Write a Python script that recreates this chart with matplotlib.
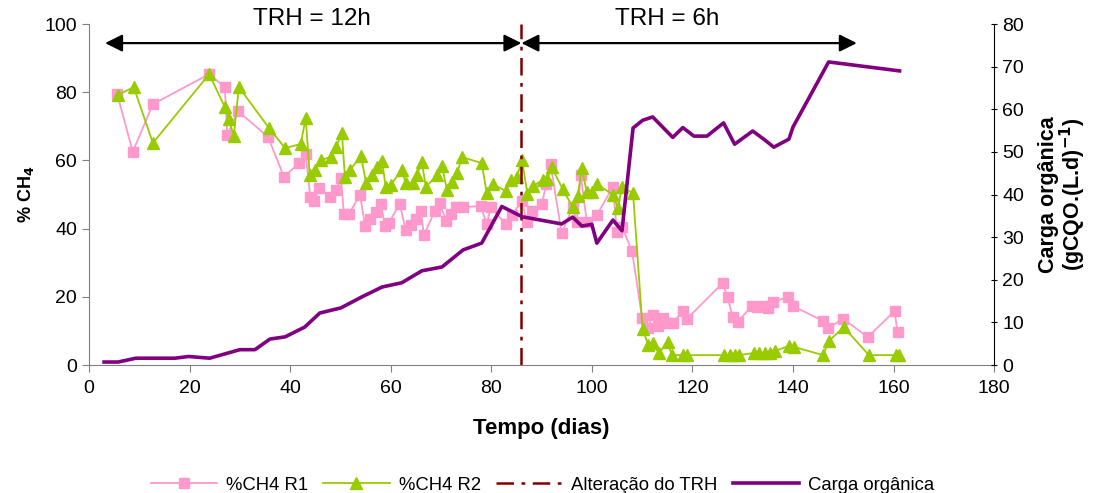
import numpy as np
import matplotlib
matplotlib.use('Agg')
from matplotlib import pyplot as plt
from matplotlib.lines import Line2D

plt.rcParams['font.family'] = ['Liberation Sans', 'DejaVu Sans']

# %CH4 no reator R1 (dias, %)
r1_dias = [5.6, 8.7, 12.7, 23.9, 27.0, 27.5, 29.6, 35.6, 38.8, 41.7, 43.1, 44.0, 44.7,
           45.7, 47.9, 49.1, 50.1, 50.7, 51.7, 53.9, 54.9, 55.9, 57.1, 58.1, 58.8, 59.6,
           61.8, 63.0, 64.0, 65.0, 66.0, 66.6, 68.8, 69.8, 71.0, 72.0, 73.0, 74.4, 77.9,
           79.1, 79.9, 82.9, 84.1, 86.1, 87.1, 88.1, 90.1, 90.9, 91.8, 94.0, 96.2, 97.0,
           97.8, 99.0, 101.0, 104.2, 105.0, 106.0, 108.0, 110.0, 111.2, 112.1, 113.1,
           114.1, 115.1, 116.1, 118.1, 118.9, 126.0, 127.0, 128.0, 129.0, 131.8, 132.8,
           134.0, 135.0, 136.0, 139.0, 140.0, 146.0, 147.0, 150.0, 154.9, 160.2, 160.8]
r1_ch4 = [79.5, 62.5, 76.5, 85.3, 81.5, 67.4, 74.5, 66.9, 55.1, 59.2, 61.9, 49.3, 48.0,
          51.9, 49.3, 51.3, 54.8, 44.3, 44.3, 49.9, 40.8, 42.8, 44.9, 47.2, 40.8, 41.6,
          47.2, 39.6, 41.0, 42.8, 45.2, 38.1, 45.2, 47.5, 42.2, 44.3, 46.3, 46.3, 46.6,
          41.3, 46.3, 41.3, 44.0, 48.1, 41.9, 45.2, 47.2, 53.1, 58.9, 38.7, 46.3, 41.9,
          55.7, 41.9, 44.0, 52.2, 39.0, 40.5, 33.4, 13.8, 10.9, 14.7, 11.4,
          13.8, 12.3, 12.3, 15.8, 13.5, 24.0, 19.9, 14.1, 12.6, 17.3, 17.0,
          17.3, 16.7, 18.5, 19.9, 17.3, 12.9, 10.9, 13.5, 8.2, 15.8, 9.7]

# %CH4 no reator R2 (dias, %)
r2_dias = [5.8, 8.9, 12.7, 23.9, 27.0, 27.8, 28.8, 29.8, 35.8, 39.0, 42.1, 43.1, 43.9,
           44.9, 46.1, 48.1, 49.1, 50.3, 50.9, 51.9, 54.1, 55.1, 56.3, 57.3, 58.3, 59.0,
           60.0, 62.2, 63.0, 64.4, 65.2, 66.2, 67.0, 69.2, 70.2, 71.2, 72.2, 73.2, 74.2,
           78.1, 79.1, 80.3, 82.9, 84.0, 85.1, 86.1, 87.2, 88.3, 90.3, 91.1, 92.0, 94.2,
           96.2, 97.2, 98.0, 99.0, 100.0, 101.0, 104.2, 105.2, 106.0, 108.2, 110.1,
           111.2, 112.1, 113.3, 115.1, 115.9, 118.1, 118.9, 126.2, 127.4, 128.4, 129.2,
           132.2, 133.2, 134.4, 135.4, 136.4, 139.2, 140.2, 146.0, 147.1, 150.1, 155.1,
           160.4, 161.0]
r2_ch4 = [79.2, 81.5, 65.1, 85.3, 75.7, 72.1, 67.2, 81.5, 69.5, 63.6, 64.8, 72.4, 55.7,
          57.2, 60.1, 61.0, 63.9, 68.0, 55.1, 57.2, 61.3, 53.4, 55.7, 58.1, 59.8, 52.2,
          52.8, 57.2, 53.4, 53.4, 55.7, 59.5, 52.2, 55.7, 58.4, 51.3, 53.7, 56.3, 61.0,
          59.2, 50.4, 53.1, 51.0, 54.2, 55.1, 60.1, 50.2, 52.5, 54.3, 54.5, 58.1, 51.6,
          46.3, 49.6, 57.8, 50.7, 50.7, 53.1, 49.9, 46.0, 52.2, 50.4, 10.6,
          5.9, 6.5, 3.5, 6.7, 2.9, 2.9, 2.9, 2.9, 2.9, 2.9, 2.9,
          3.5, 3.5, 3.5, 3.5, 4.1, 5.6, 5.3, 2.9, 7.0, 11.1, 2.9,
          2.9, 2.9]

# Carga organica (dias, gCQO/(L.d))
carga_dias = [3.0, 5.8, 9.3, 17.1, 19.8, 24.0, 30.0, 33.0, 36.0, 39.0, 42.9, 45.9, 50.1,
              54.3, 58.3, 62.2, 66.2, 70.2, 74.4, 78.1, 82.1, 86.1, 94.0, 96.2, 98.0,
              100.0, 101.0, 104.2, 106.0, 108.2, 110.1, 112.1, 116.1, 118.1, 120.3,
              122.9, 126.2, 128.4, 132.0, 134.4, 136.2, 139.2, 140.0, 147.1, 161.2]
carga = [0.7, 0.7, 1.6, 1.6, 2.0, 1.6, 3.6, 3.6, 6.1, 6.6, 8.9, 12.2, 13.4,
         16.0, 18.3, 19.3, 22.1, 23.0, 27.0, 28.6, 37.2, 34.8, 33.1, 34.7, 32.6,
         33.0, 28.6, 34.0, 31.5, 55.6, 57.4, 58.2, 53.4, 55.7, 53.7,
         53.7, 56.8, 51.8, 54.9, 52.8, 51.1, 53.0, 55.8, 71.1, 69.0]

dia_alteracao = 86
periodos = ['TRH = 12h', 'TRH = 6h']
periodo_lim = [3.2, 86, 152.7]

c_r1 = '#FF99CC'
c_r2 = '#99CC00'
c_carga = '#800080'
c_trh = '#800000'

fig = plt.figure(figsize=(10.96, 4.93), dpi=100)
ax = fig.add_axes([0.0812, 0.2596, 0.8258, 0.6917])
ax2 = ax.twinx()

ax.plot(r1_dias, r1_ch4, color=c_r1, lw=1.3, marker='s', ms=6.5, mec=c_r1, label='%CH4 R1')
ax.plot(r2_dias, r2_ch4, color=c_r2, lw=1.3, marker='^', ms=8.5, mec=c_r2, label='%CH4 R2')
ax.axvline(dia_alteracao, color=c_trh, lw=1.8, dashes=(7, 3, 1.5, 3), label='Alteração do TRH')
ax2.plot(carga_dias, carga, color=c_carga, lw=2.6, label='Carga orgânica')

ax.set_xlim(0, 180)
ax.set_ylim(0, 100)
ax2.set_ylim(0, 80)
ax.set_xticks(np.arange(0, 181, 20))
ax.set_yticks(np.arange(0, 101, 20))
ax2.set_yticks(np.arange(0, 81, 10))

# setas dos periodos
y_seta = 94.4
for lab, x0, x1 in zip(periodos, periodo_lim[:-1], periodo_lim[1:]):
    ax.annotate('', xy=(x0, y_seta), xytext=(x1, y_seta),
                arrowprops=dict(arrowstyle='<|-|>', color='black', lw=1.6,
                                mutation_scale=26, shrinkA=0, shrinkB=0),
                annotation_clip=False)
ax.text(44.3, 101.4, periodos[0], ha='center', va='center', fontsize=17.5, clip_on=False)
ax.text(115, 101.4, periodos[1], ha='center', va='center', fontsize=17.5, clip_on=False)

for a in (ax, ax2):
    a.spines['top'].set_visible(False)
ax.spines['left'].set_color('#808080')
ax.spines['bottom'].set_color('#808080')
ax.spines['right'].set_visible(False)
ax2.spines['left'].set_visible(False)
ax2.spines['bottom'].set_visible(False)
ax2.spines['right'].set_color('black')
ax.tick_params(axis='both', labelsize=14, length=5, color='#808080')
ax.tick_params(axis='x', pad=6)
ax2.tick_params(axis='y', labelsize=14, length=5, direction='inout')

ax.set_xlabel('Tempo (dias)', fontsize=16, fontweight='bold', labelpad=15)
ax.set_ylabel('% CH$_\\mathbf{4}$', fontsize=13, fontweight='bold', labelpad=6)
ax2.set_ylabel('Carga orgânica\n(gCQO.(L.d)$^{\\mathbf{-1}}$)', fontsize=15.5,
               fontweight='bold', labelpad=10, linespacing=0.95)

handles = [Line2D([], [], color=c_r1, lw=1.3, marker='s', ms=6.5),
           Line2D([], [], color=c_r2, lw=1.3, marker='^', ms=8.5),
           Line2D([], [], color=c_trh, lw=1.8, dashes=(7, 3, 1.5, 3)),
           Line2D([], [], color=c_carga, lw=2.6)]
labels = ['%CH4 R1', '%CH4 R2', 'Alteração do TRH', 'Carga orgânica']
fig.legend(handles, labels, loc='lower center', bbox_to_anchor=(0.495, -0.035), ncol=4,
           frameon=False, fontsize=13.3, handlelength=3.6, columnspacing=0.8,
           handletextpad=0.5)

fig.savefig('out.png', dpi=100)
